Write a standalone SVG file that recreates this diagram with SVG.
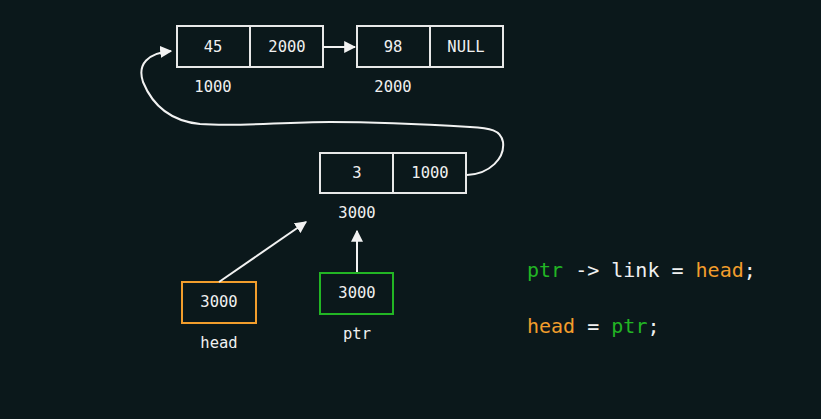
<svg xmlns="http://www.w3.org/2000/svg" width="821" height="419" viewBox="0 0 821 419">
<defs>
<marker id="ah" viewBox="0 0 10 10" refX="9" refY="5" markerWidth="6" markerHeight="6" orient="auto" markerUnits="strokeWidth">
<path d="M0,0 L10,5 L0,10 z" fill="#f2f2f2"/>
</marker>
<style>
.box{fill:none;stroke:#e8e8e8;stroke-width:2}
.t{font-family:"DejaVu Sans Mono","Liberation Mono",monospace;font-size:15.5px;fill:#f0f0f0;text-anchor:middle;dominant-baseline:central}
.c{font-family:"DejaVu Sans Mono","Liberation Mono",monospace;font-size:20px;fill:#f0f0f0}
.ln{fill:none;stroke:#f2f2f2;stroke-width:2}
.g{fill:#22b524}
.o{fill:#f29d2c}
</style>
</defs>
<rect width="821" height="419" fill="#0b181b"/>
<g id="node1000">
<rect class="box" x="177" y="26" width="146" height="41"/>
<line class="box" x1="250" y1="26" x2="250" y2="67"/>
<text class="t" x="213" y="47">45</text>
<text class="t" x="287" y="47">2000</text>
<text class="t" x="213" y="87">1000</text>
</g>
<g id="node2000">
<rect class="box" x="357" y="26" width="146" height="41"/>
<line class="box" x1="430" y1="26" x2="430" y2="67"/>
<text class="t" x="393" y="47">98</text>
<text class="t" x="466" y="47">NULL</text>
<text class="t" x="393" y="87">2000</text>
</g>
<g id="node3000">
<rect class="box" x="320" y="153" width="146" height="40"/>
<line class="box" x1="393" y1="153" x2="393" y2="193"/>
<text class="t" x="357" y="173">3</text>
<text class="t" x="430" y="173">1000</text>
<text class="t" x="357" y="213">3000</text>
</g>
<g id="head">
<rect x="182" y="282" width="74" height="41" fill="none" stroke="#f29d2c" stroke-width="2"/>
<text class="t" x="219" y="302">3000</text>
<text class="t" x="219" y="343">head</text>
</g>
<g id="ptr">
<rect x="320" y="273" width="73" height="41" fill="none" stroke="#22b524" stroke-width="2"/>
<text class="t" x="357" y="293">3000</text>
<text class="t" x="357" y="334">ptr</text>
</g>
<g id="connectors">
<line class="ln" x1="323" y1="47" x2="355" y2="47" marker-end="url(#ah)"/>
<path class="ln" d="M467,175 C490,174 505,158 503,142 C501,130 490,128 470,127 C420,124 380,122 330,122 C280,122 240,127 200,124 C170,121 152,104 143,82 C137,64 148,53 171,51" marker-end="url(#ah)"/>
<line class="ln" x1="219" y1="282" x2="306" y2="222" marker-end="url(#ah)"/>
<line class="ln" x1="357" y1="272" x2="357" y2="231" marker-end="url(#ah)"/>
</g>
<g id="code">
<text class="c" x="527" y="277"><tspan class="g">ptr</tspan> -&gt; link = <tspan class="o">head</tspan>;</text>
<text class="c" x="527" y="333"><tspan class="o">head</tspan> = <tspan class="g">ptr</tspan>;</text>
</g>
</svg>
